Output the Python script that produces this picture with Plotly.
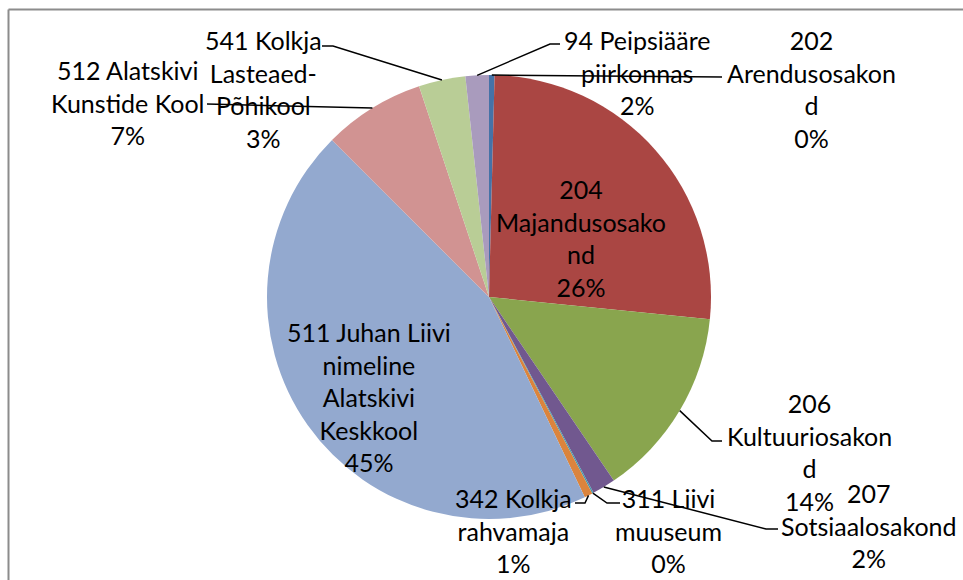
import math
import plotly.graph_objects as go

# ---- data ----
labels = ["202 Arendusosakond", "204 Majandusosakond", "206 Kultuuriosakond",
          "207 Sotsiaalosakond", "311 Liivi muuseum", "342 Kolkja rahvamaja",
          "511 Juhan Liivi nimeline Alatskivi Keskkool", "512 Alatskivi Kunstide Kool",
          "541 Kolkja Lasteaed-Põhikool", "94 Peipsiääre piirkonnas"]
values = [0.4, 26.2, 13.9, 1.7, 0.1, 0.6, 44.6, 7.4, 3.4, 1.7]
label_text = ["202<br>Arendusosakon<br>d", "204<br>Majandusosako<br>nd", "206<br>Kultuuriosakon<br>d",
              "207<br>Sotsiaalosakond", "311 Liivi<br>muuseum", "342 Kolkja<br>rahvamaja",
              "511 Juhan Liivi<br>nimeline<br>Alatskivi<br>Keskkool", "512 Alatskivi<br>Kunstide Kool",
              "541 Kolkja<br>Lasteaed-<br>Põhikool", "94 Peipsiääre<br>piirkonnas"]
colors = ["#4572A7", "#AA4643", "#89A54E", "#71588F", "#4198AF", "#DB843D",
          "#93A9CF", "#D19392", "#B9CD96", "#A99BBD"]

# ---- layout ----
W, H = 963, 580
CX, CY, R = 489, 297, 222
FONT = dict(family="Lato, 'Open Sans', sans-serif", size=25, color="black")

# label block centres (px) and leader-line elbows/ends (px); None = no leader line
label_pos = [(811, 89), (581, 238), (809, 452), (869, 525), (668, 530), (513, 530),
             (369, 397), (128, 102), (263, 89), (637, 72)]
leader = [[(722, 77)],
          None,
          [(712, 441), (722, 441)],
          [(766, 529), (778, 529)],
          [(607, 503), (620, 503)],
          [(585, 503), (575, 503)],
          None,
          [(207, 104)],
          [(333, 46), (322, 46)],
          [(550, 44), (560, 44)]]

fig = go.Figure(go.Pie(
    labels=labels, values=values, sort=False, direction="clockwise", rotation=0,
    marker=dict(colors=colors, line=dict(width=0)), textinfo="none",
    hoverinfo="label+percent", showlegend=False,
    domain=dict(x=[(CX - R) / W, (CX + R) / W], y=[1 - (CY + R) / H, 1 - (CY - R) / H]),
))

total = sum(values)
shapes = []
annotations = []
cum = 0.0
for i, v in enumerate(values):
    mid = (cum + v / 2) / total
    cum += v
    ang = 2 * math.pi * mid
    sx, sy = CX + R * math.sin(ang), CY - R * math.cos(ang)
    pct = round(100 * v / total)
    lx, ly = label_pos[i]
    annotations.append(dict(x=lx / W, y=1 - ly / H, xref="paper", yref="paper",
                            text=f"{label_text[i]}<br>{pct}%", showarrow=False,
                            align="center", xanchor="center", yanchor="middle", font=FONT))
    if leader[i]:
        pts = [(sx, sy)] + leader[i]
        path = "M " + " L ".join(f"{x / W},{1 - y / H}" for x, y in pts)
        shapes.append(dict(type="path", path=path, xref="paper", yref="paper",
                           line=dict(color="black", width=1.5)))

# chart-area frame (top and left edges visible)
shapes.append(dict(type="line", xref="paper", yref="paper", x0=8.5 / W, x1=1, y0=1 - 9.5 / H, y1=1 - 9.5 / H,
                   line=dict(color="#8C8C8C", width=2)))
shapes.append(dict(type="line", xref="paper", yref="paper", x0=8.5 / W, x1=8.5 / W, y0=0, y1=1 - 9.5 / H,
                   line=dict(color="#8C8C8C", width=2)))

fig.update_layout(width=W, height=H, margin=dict(l=0, r=0, t=0, b=0),
                  paper_bgcolor="white", plot_bgcolor="white",
                  shapes=shapes, annotations=annotations)
fig.write_html("out.html", config={"displayModeBar": False},
               post_script="document.body.style.margin='0px';document.body.style.overflow='hidden';")
